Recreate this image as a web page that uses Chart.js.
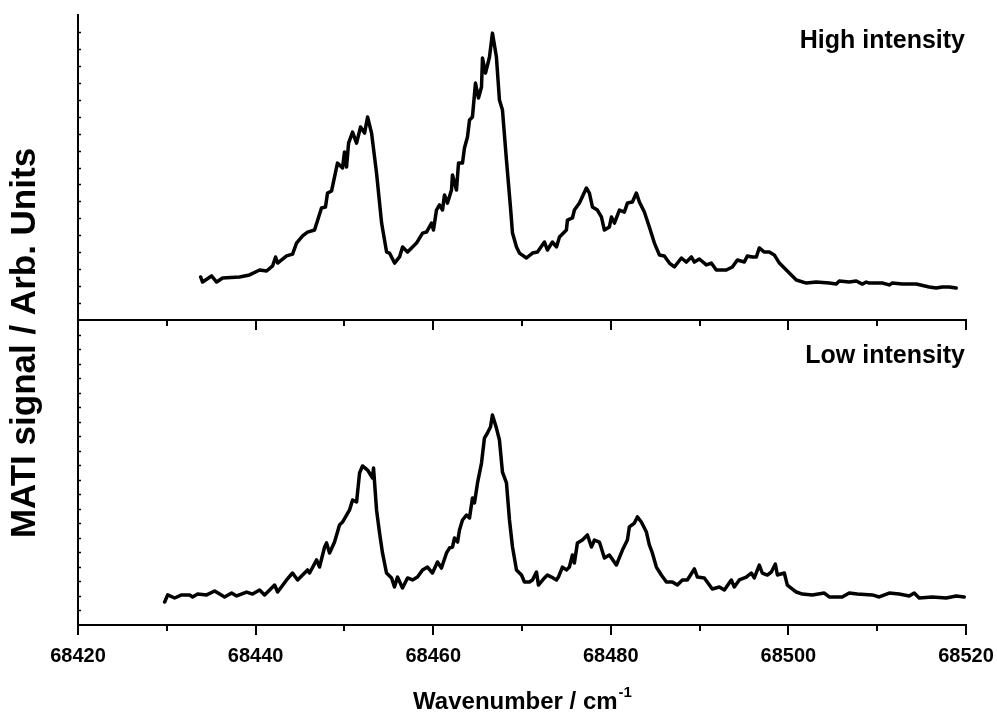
<!DOCTYPE html>
<html>
<head>
<meta charset="utf-8">
<script src="https://cdn.jsdelivr.net/npm/chart.js@4/dist/chart.umd.min.js"></script>
<style>
  html, body { margin: 0; padding: 0; background: #ffffff; }
  #wrap { width: 997px; height: 713px; }
</style>
</head>
<body>
<div id="wrap"><canvas id="c" width="997" height="713"></canvas></div>
<script>
// ---- Data ----
const xAxisTitle = "Wavenumber / cm";
const xAxisTitleSup = "-1";
const yAxisTitle = "MATI signal / Arb. Units";
const highLabel = "High intensity";
const lowLabel = "Low intensity";

const xMin = 68420;
const xMax = 68520;
const xMajorStep = 20;
const xMinorStep = 10;

const highWavenumber = [68433.81,68434.03,68435.04,68435.61,68436.28,68438.19,68439.32,68440.45,68441.24,68441.91,68442.25,68442.48,68443.49,68444.16,68444.61,68445.29,68445.85,68446.64,68447.42,68447.87,68448.10,68448.55,68449.22,68449.79,68450.01,68450.24,68450.47,68450.92,68451.37,68451.82,68452.27,68452.61,68453.06,68453.62,68454.19,68454.75,68455.08,68455.65,68456.21,68456.55,68457.11,68458.12,68458.80,68459.25,68459.81,68460.03,68460.37,68460.71,68461.05,68461.27,68461.61,68462.06,68462.17,68462.62,68462.85,68463.30,68463.52,68463.86,68464.09,68464.42,68464.76,68465.10,68465.44,68465.55,68465.89,68466.34,68466.67,68467.12,68467.46,68467.80,68468.25,68468.70,68468.93,68469.38,68469.71,68470.50,68471.18,68471.74,68472.53,68472.86,68473.43,68473.88,68474.22,68475.00,68475.12,68475.68,68475.90,68476.47,68477.25,68477.59,68477.93,68478.49,68478.94,68479.28,68479.84,68480.07,68480.41,68480.97,68481.53,68481.87,68482.43,68482.88,68483.22,68483.78,68484.34,68484.91,68485.47,68486.03,68486.60,68487.16,68487.95,68488.51,68489.07,68489.41,68489.97,68490.76,68491.32,68491.88,68493.01,68493.69,68494.25,68495.04,68495.37,68495.94,68496.39,68496.72,68497.29,68497.85,68498.41,68498.98,68500.10,68500.89,68502.02,68503.14,68504.60,68505.39,68505.73,68506.85,68507.64,68508.32,68508.77,68509.11,68510.57,68511.36,68511.70,68512.82,68514.40,68515.86,68516.65,68517.32,68518.11,68518.90];
const highSignal = [25.4,22.4,26.0,22.4,24.8,25.4,26.6,29.5,28.9,31.9,37.2,33.6,37.8,38.9,45.4,49.6,51.9,53.1,66.1,66.7,74.9,76.1,92.6,89.7,99.1,90.3,104.4,110.9,104.4,113.9,110.3,119.8,110.3,86.7,57.2,40.1,39.5,33.6,37.2,43.1,40.1,45.4,51.3,51.9,57.2,53.1,64.9,67.9,64.9,73.8,69.0,76.7,85.6,76.7,92.6,92.6,101.5,108.0,118.0,119.8,139.8,131.0,137.5,154.6,145.7,155.2,169.3,155.2,129.8,123.9,94.4,66.7,51.3,43.1,39.5,36.6,39.5,40.1,46.0,41.3,46.0,43.1,49.0,53.1,59.0,60.2,64.9,69.0,77.9,74.9,66.7,64.9,60.8,53.1,54.9,60.8,57.2,64.9,63.7,69.0,69.6,74.9,69.6,63.7,54.9,45.4,38.4,37.8,33.6,31.3,36.6,34.2,37.2,34.2,36.0,32.5,33.6,29.5,29.5,31.3,35.4,34.2,37.8,37.2,37.2,42.5,40.1,40.1,38.4,33.6,27.7,23.6,21.8,22.4,21.8,21.2,23.0,22.4,23.0,21.2,22.4,21.8,21.8,20.7,21.8,21.2,21.2,19.5,18.9,19.5,19.5,18.9];

const lowWavenumber = [68429.76,68430.10,68430.88,68431.67,68432.57,68432.91,68433.47,68434.49,68435.39,68435.95,68436.51,68437.30,68437.86,68438.99,68439.66,68440.45,68441.01,68441.58,68442.14,68442.48,68443.49,68444.16,68444.73,68445.29,68445.85,68446.08,68446.87,68447.20,68447.77,68447.99,68448.33,68448.89,68449.45,68449.79,68450.58,68450.92,68451.37,68451.71,68452.04,68452.61,68453.17,68453.28,68453.62,68453.96,68454.29,68454.74,68455.31,68455.64,68455.98,68456.54,68457.11,68457.67,68458.23,68458.80,68459.36,68459.92,68460.48,68460.93,68461.50,68461.83,68462.17,68462.40,68462.74,68462.96,68463.30,68463.75,68464.09,68464.42,68464.65,68464.99,68465.44,68465.77,68466.11,68466.45,68466.67,68467.12,68467.46,68467.80,68468.25,68468.59,68468.93,68469.38,68469.94,68470.28,68470.84,68471.18,68471.63,68471.85,68472.53,68472.86,68473.32,68473.88,68474.10,68474.55,68475.00,68475.34,68475.68,68475.90,68476.24,68476.80,68477.37,68477.82,68478.16,68478.72,68479.28,68479.84,68480.63,68481.31,68481.87,68482.09,68482.66,68482.99,68483.44,68484.01,68484.34,68484.68,68485.13,68485.69,68486.26,68486.93,68487.50,68488.06,68488.62,68489.41,68489.75,68490.53,68491.43,68492.22,68492.79,68493.57,68493.91,68494.47,68495.26,68495.82,68496.16,68496.72,68497.06,68497.63,68498.08,68498.53,68498.76,68499.54,68499.88,68500.89,68501.57,68502.69,68504.04,68504.60,68506.06,68506.85,68507.76,68509.44,68510.23,68511.36,68512.48,68513.61,68514.17,68514.73,68516.20,68517.77,68518.90,68519.80];
const lowSignal = [15.8,20.7,18.6,20.7,20.7,19.3,21.3,20.7,23.4,21.3,19.3,22.0,20.0,22.7,21.3,24.1,20.7,24.1,27.5,22.7,31.0,35.8,31.0,34.4,37.9,35.8,44.8,39.9,53.7,56.5,49.6,57.1,68.9,70.9,79.2,86.1,84.7,104.7,109.5,106.7,101.2,108.1,79.2,63.3,49.6,35.8,32.4,26.2,33.0,25.5,32.4,31.0,33.0,37.9,39.9,35.8,43.4,39.2,49.6,53.0,53.7,59.9,57.1,65.4,72.3,75.7,73.7,87.4,84.0,97.8,111.5,128.7,132.2,136.3,144.6,135.6,127.4,105.3,97.8,72.3,53.7,37.9,34.4,29.6,29.6,31.0,36.5,27.5,32.4,34.4,33.0,31.0,33.0,39.9,37.9,39.9,48.2,42.7,56.5,58.5,62.0,53.7,58.5,57.1,46.1,48.2,41.3,51.6,58.5,67.5,70.2,74.4,70.9,64.0,55.1,49.6,39.9,34.4,29.6,29.6,27.5,31.0,31.0,38.6,33.0,32.4,24.8,26.2,24.1,31.0,26.2,31.0,33.0,35.8,32.4,41.3,35.8,34.4,36.5,42.0,34.4,35.8,27.5,22.7,21.3,20.7,22.0,19.3,19.3,22.0,21.3,20.7,19.3,22.0,21.3,20.0,22.0,18.6,19.3,18.6,20.0,19.3];

const highAxisMax = 180;
const lowAxisMax = 210;
const yMinorStep = 10;

// ---- Chart ----
const FONT = '"Liberation Sans", Arial, Helvetica, sans-serif';

const toPoints = (xs, ys) => xs.map((x, i) => ({ x: x, y: ys[i] }));

const decoPlugin = {
  id: 'deco',
  afterDraw(chart) {
    const { ctx, chartArea, scales } = chart;
    const xs = scales.x, yt = scales.yTop, yb = scales.yBottom;
    const midY = Math.round(yt.bottom);
    ctx.save();
    ctx.strokeStyle = '#000';
    ctx.fillStyle = '#000';
    ctx.lineCap = 'butt';
    // middle axis line (bottom of upper panel)
    ctx.lineWidth = 2;
    ctx.beginPath();
    ctx.moveTo(chartArea.left - 1, midY);
    ctx.lineTo(chartArea.right + 1, midY);
    ctx.stroke();
    // x ticks (major and minor) on both horizontal axes, pointing down
    xs.ticks.forEach(t => {
      const px = Math.round(xs.getPixelForValue(t.value));
      const major = Math.abs(t.value % xMajorStep) < 1e-6;
      const len = major ? 10 : 6;
      [midY, Math.round(chartArea.bottom)].forEach(y0 => {
        ctx.lineWidth = 2;
        ctx.beginPath();
        ctx.moveTo(px, y0);
        ctx.lineTo(px, y0 + len);
        ctx.stroke();
      });
    });
    // y minor ticks, inward
    [yt, yb].forEach(s => {
      s.ticks.forEach(t => {
        const py = Math.round(s.getPixelForValue(t.value)) + 0.5;
        if (py > s.top + 2 && py < s.bottom - 2) {
          ctx.lineWidth = 1.5;
          ctx.beginPath();
          ctx.moveTo(chartArea.left, py);
          ctx.lineTo(chartArea.left + 3, py);
          ctx.stroke();
        }
      });
    });
    // panel labels
    ctx.font = 'bold 25px ' + FONT;
    ctx.textAlign = 'right';
    ctx.textBaseline = 'alphabetic';
    ctx.fillText(highLabel, chartArea.right - 1, yt.top + 33);
    ctx.fillText(lowLabel, chartArea.right - 1, yb.top + 43);
    // x axis title with superscript
    ctx.font = 'bold 24px ' + FONT;
    const mainW = ctx.measureText(xAxisTitle).width;
    ctx.font = 'bold 15px ' + FONT;
    const supW = ctx.measureText(xAxisTitleSup).width;
    const cx = (chartArea.left + chartArea.right) / 2;
    const startX = cx - (mainW + supW) / 2;
    ctx.textAlign = 'left';
    ctx.font = 'bold 24px ' + FONT;
    ctx.fillText(xAxisTitle, startX, 709);
    ctx.font = 'bold 15px ' + FONT;
    ctx.fillText(xAxisTitleSup, startX + mainW + 1, 697);
    // y axis title
    ctx.save();
    ctx.translate(35, 343);
    ctx.rotate(-Math.PI / 2);
    ctx.textAlign = 'center';
    ctx.font = 'bold 35px ' + FONT;
    ctx.fillText(yAxisTitle, 0, 0);
    ctx.restore();
    ctx.restore();
  }
};

const lineStyle = {
  borderColor: '#000',
  borderWidth: 3.5,
  pointRadius: 0,
  tension: 0,
  fill: false,
  borderJoinStyle: 'round',
  borderCapStyle: 'round'
};

new Chart(document.getElementById('c'), {
  type: 'line',
  data: {
    datasets: [
      Object.assign({ label: highLabel, data: toPoints(highWavenumber, highSignal), yAxisID: 'yTop' }, lineStyle),
      Object.assign({ label: lowLabel, data: toPoints(lowWavenumber, lowSignal), yAxisID: 'yBottom' }, lineStyle)
    ]
  },
  options: {
    responsive: false,
    animation: false,
    layout: { padding: { left: 78, right: 31, top: 15, bottom: 0 } },
    plugins: { legend: { display: false }, tooltip: { enabled: false }, title: { display: false } },
    scales: {
      x: {
        type: 'linear',
        position: 'bottom',
        min: xMin,
        max: xMax,
        afterFit: s => { s.height = 88; s.paddingLeft = 0; s.paddingRight = 0; },
        border: { display: true, color: '#000', width: 2 },
        grid: { display: true, drawOnChartArea: false, drawTicks: false },
        ticks: {
          stepSize: xMinorStep,
          autoSkip: false,
          maxRotation: 0,
          padding: 19,
          color: '#000',
          font: { family: FONT, size: 20, weight: 'bold' },
          callback: v => (Math.abs(v % xMajorStep) < 1e-6 ? String(v) : '')
        }
      },
      yBottom: {
        type: 'linear',
        position: 'left',
        stack: 'panels',
        stackWeight: 1,
        min: 0,
        max: lowAxisMax,
        afterFit: s => { s.width = 0; },
        border: { display: true, color: '#000', width: 2 },
        grid: { display: true, drawOnChartArea: false, drawTicks: false },
        ticks: { display: false, stepSize: yMinorStep }
      },
      yTop: {
        type: 'linear',
        position: 'left',
        stack: 'panels',
        stackWeight: 1,
        min: 0,
        max: highAxisMax,
        afterFit: s => { s.width = 0; },
        border: { display: true, color: '#000', width: 2 },
        grid: { display: true, drawOnChartArea: false, drawTicks: false },
        ticks: { display: false, stepSize: yMinorStep }
      }
    }
  },
  plugins: [decoPlugin]
});
</script>
</body>
</html>
